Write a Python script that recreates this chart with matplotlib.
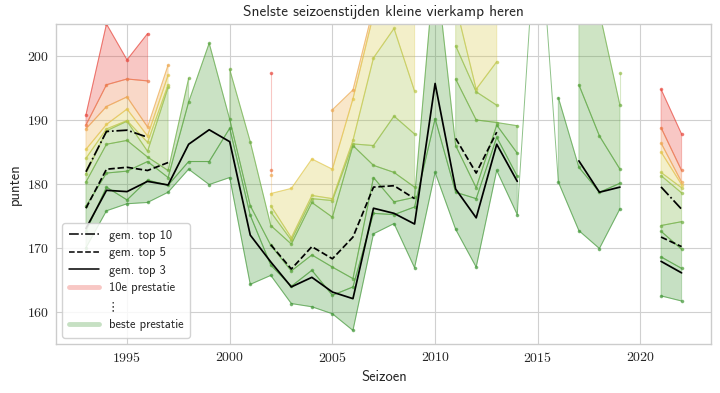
import matplotlib
matplotlib.use('Agg')
import matplotlib.pyplot as plt
import numpy as np
from matplotlib.colors import LinearSegmentedColormap
from matplotlib.lines import Line2D

seasons = list(range(1993, 2023))

# tien beste puntentotalen per seizoen (oplopend), lege lijst = geen uitslagen
season_scores = [
    [170.0, 172.6, 176.5, 180.3, 181.6, 184.0, 185.4, 188.6, 189.2, 190.8],  # 1993
    [175.8, 179.5, 181.7, 186.2, 188.3, 188.6, 189.3, 192.1, 195.5, 205.0],  # 1994
    [176.9, 177.5, 182.0, 186.8, 189.8, 189.9, 191.7, 193.6, 196.4, 199.4],  # 1995
    [177.1, 180.6, 183.5, 184.2, 185.1, 186.5, 187.5, 188.9, 196.1, 203.5],  # 1996
    [178.7, 179.8, 181.0, 182.1, 195.1, 195.5, 197.0, 198.6],                # 1997
    [182.3, 183.5, 192.8, 196.5],                                            # 1998
    [179.9, 183.5, 202.0],                                                   # 1999
    [181.0, 188.7, 190.1, 197.9],                                            # 2000
    [164.3, 175.1, 176.6, 186.6],                                            # 2001
    [165.7, 167.3, 170.4, 173.5, 175.6, 176.6, 178.5, 181.4, 182.1, 197.4],  # 2002
    [161.3, 164.0, 166.4, 170.6, 171.2, 171.6, 179.3],                       # 2003
    [160.8, 166.5, 168.9, 177.1, 177.7, 178.2, 183.9],                       # 2004
    [159.7, 162.6, 167.0, 174.8, 177.4, 177.7, 182.3, 191.6],                # 2005
    [157.1, 163.9, 165.2, 186.0, 186.25, 186.8, 193.3, 194.7],               # 2006
    [172.2, 175.4, 181.0, 182.9, 186.0, 199.7, 206.5, 207.6],                # 2007
    [173.8, 175.2, 177.2, 181.8, 190.6, 204.3, 208.0, 211.0],                # 2008
    [166.9, 176.4, 177.9, 179.5, 187.8, 194.5, 212.0],                       # 2009
    [181.8, 190.2, 215.1],                                                   # 2010
    [172.9, 178.7, 186.0, 196.4, 201.6, 208.0, 211.0],                       # 2011
    [167.0, 177.7, 179.4, 190.0, 194.4, 194.8, 208.0],                       # 2012
    [182.1, 187.3, 189.2, 189.6, 192.3, 199.1, 207.0],                       # 2013
    [175.2, 181.2, 184.8, 189.1],                                            # 2014
    [225.0],                                                                 # 2015
    [180.3, 193.5],                                                          # 2016
    [172.7, 182.6, 195.5, 212.0],                                            # 2017
    [169.9, 178.7, 187.5, 206.9],                                            # 2018
    [176.1, 180.1, 182.3, 192.3, 197.4],                                     # 2019
    [],                                                                      # 2020
    [162.5, 168.6, 172.6, 173.5, 181.3, 181.8, 185.0, 186.4, 188.8, 194.8],  # 2021
    [161.7, 166.8, 169.8, 174.1, 178.6, 179.4, 179.9, 180.3, 182.1, 187.8],  # 2022
]

mean_sizes = [10, 5, 3]
mean_styles = ['-.', '--', '-']

plt.style.use('seaborn-v0_8-whitegrid')
plt.rcParams['axes.formatter.use_mathtext'] = True
plt.rcParams['mathtext.fontset'] = 'cm'
plt.rcParams['axes.edgecolor'] = '#cccccc'
plt.rcParams['grid.color'] = '#d0d0d0'

cmap = LinearSegmentedColormap.from_list(
    'prestatie', [(0.0, '#44993a'), (0.3, '#62a93f'), (0.5, '#a9c64c'),
                  (0.65, '#e2cb4c'), (0.8, '#f0a352'), (1.0, '#e8463c')])

# rangen als rijen, NaN waar een seizoen minder uitslagen heeft
ranks = np.full((10, len(seasons)), np.nan)
for i, scores in enumerate(season_scores):
    ranks[:len(scores), i] = scores

fig, ax = plt.subplots(figsize=(7.2, 3.93), dpi=100)
fig.subplots_adjust(left=0.078, right=0.988, top=0.939, bottom=0.125)

for k in range(9):
    ax.fill_between(seasons, ranks[k], ranks[k + 1], color=cmap(k / 8),
                    alpha=0.3, lw=0.8)
for k in range(10):
    ax.plot(seasons, ranks[k], color=cmap(k / 9), lw=0.7, alpha=0.6,
            marker='o', ms=1.6)

for n, ls in zip(mean_sizes, mean_styles):
    counts = np.sum(~np.isnan(ranks[:n]), axis=0)
    full = np.where(counts >= n, np.nanmean(np.where(counts >= n, ranks[:n], 0), axis=0), np.nan)
    ax.plot(seasons, full, color='k', ls=ls, lw=1.25)

ax.set_ylim(155, 205)
ax.set_title('Snelste seizoenstijden kleine vierkamp heren', fontfamily='cmss10',
             fontsize=11, color='#262626')
ax.set_xlabel('Seizoen', fontfamily='cmss10', fontsize=10.5, color='#262626')
ax.set_ylabel('punten', fontfamily='cmss10', fontsize=10.5, color='#262626')
for lab in ax.get_xticklabels() + ax.get_yticklabels():
    lab.set_fontfamily('cmr10')
    lab.set_fontsize(10)
    lab.set_color('#262626')
ax.tick_params(length=0, pad=5)

handles = [
    Line2D([], [], color='k', ls='-.', lw=1.1),
    Line2D([], [], color='k', ls='--', lw=1.1),
    Line2D([], [], color='k', ls='-', lw=1.1),
    Line2D([], [], color=cmap(1.0), lw=3.5, alpha=0.3),
    Line2D([], [], color='none'),
    Line2D([], [], color=cmap(0.0), lw=3.5, alpha=0.3),
]
labels = ['gem. top 10', 'gem. top 5', 'gem. top 3', '10e prestatie', r'$\vdots$',
          'beste prestatie']
leg = ax.legend(handles, labels, loc='lower left', frameon=True, fancybox=True,
                prop={'family': 'cmss10', 'size': 9}, labelspacing=0.45,
                handlelength=2.4, borderpad=0.5)
leg.get_frame().set_edgecolor('#cccccc')
leg.get_frame().set_alpha(0.85)

plt.savefig('out.png', dpi=100)
plt.close()
